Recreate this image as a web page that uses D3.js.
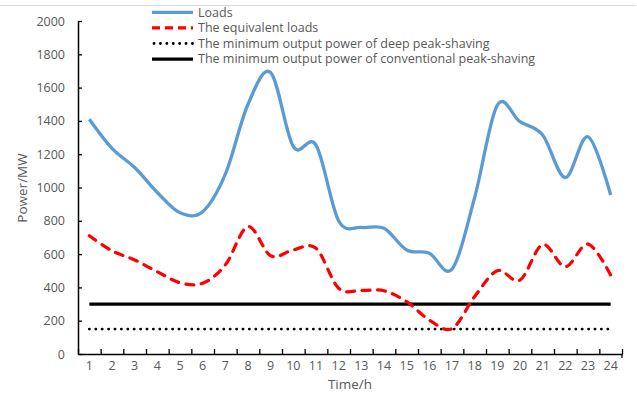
<!DOCTYPE html>
<html>
<head>
<meta charset="utf-8">
<script src="https://cdn.jsdelivr.net/npm/d3@7"></script>
<style>
  body { margin: 0; background: #fff; }
  text { font-family: "Open Sans", sans-serif; fill: #595959; }
</style>
</head>
<body>
<div id="wrapper"></div>
<script>
// data
const hours = ["1","2","3","4","5","6","7","8","9","10","11","12","13","14","15","16","17","18","19","20","21","22","23","24"];
const loads = [1410, 1235, 1120, 970, 848, 855, 1080, 1500, 1690, 1245, 1255, 800, 760, 755, 625, 605, 510, 940, 1495, 1395, 1315, 1060, 1305, 955];
const equivalentLoads = [710, 620, 565, 494, 428, 425, 535, 765, 590, 625, 635, 395, 382, 380, 314, 204, 152, 345, 500, 444, 657, 524, 660, 474];
const deepMin = 150;          // minimum output power of deep peak-shaving
const conventionalMin = 300;  // minimum output power of conventional peak-shaving
const yTicks = [0, 200, 400, 600, 800, 1000, 1200, 1400, 1600, 1800, 2000];
const legendLabels = [
  "Loads",
  "The equivalent loads",
  "The minimum output power of deep peak-shaving",
  "The minimum output power of conventional peak-shaving"
];

const dims = { width: 637, height: 395, left: 78, right: 622, top: 21, bottom: 354 };

const svg = d3.select("#wrapper").append("svg")
  .attr("width", dims.width)
  .attr("height", dims.height);

// thin grey frame line at the top
svg.append("line")
  .attr("x1", 0).attr("x2", 636)
  .attr("y1", 5.5).attr("y2", 5.5)
  .attr("stroke", "#d9d9d9");

// scales
const xScale = d3.scaleBand().domain(hours).range([dims.left, dims.right]).padding(0);
const xPos = d => xScale(d) + xScale.bandwidth() / 2;
const xEdges = d3.scaleLinear().domain([0, hours.length]).range([dims.left, dims.right]);
const yScale = d3.scaleLinear().domain([0, 2000]).range([dims.bottom, dims.top]);

// axes
const yAxis = svg.append("g")
  .attr("transform", `translate(${dims.left},0)`)
  .call(d3.axisLeft(yScale).tickValues(yTicks).tickFormat(d3.format("d"))
    .tickSizeInner(-4).tickSizeOuter(0).tickPadding(13));
yAxis.select(".domain").attr("stroke", "#000").attr("stroke-width", 1.5);
yAxis.selectAll(".tick line").attr("stroke", "#000").attr("stroke-width", 1.3);
yAxis.selectAll("text").style("font-size", "12.5px").attr("fill", "#595959");

const xTicks = svg.append("g")
  .attr("transform", `translate(0,${dims.bottom})`)
  .call(d3.axisBottom(xEdges).tickValues(d3.range(0, hours.length + 1)).tickSizeInner(-5).tickSizeOuter(0).tickFormat(""));
xTicks.select(".domain").attr("stroke", "#000").attr("stroke-width", 1.5);
xTicks.selectAll(".tick line").attr("stroke", "#000").attr("stroke-width", 1.3);
// right end tick pokes below the axis too
xTicks.append("line")
  .attr("x1", dims.right).attr("x2", dims.right)
  .attr("y1", 0).attr("y2", 4)
  .attr("stroke", "#000").attr("stroke-width", 1.3);

const xLabels = svg.append("g")
  .attr("transform", `translate(0,${dims.bottom})`)
  .call(d3.axisBottom(xScale).tickSize(0).tickPadding(7));
xLabels.select(".domain").remove();
xLabels.selectAll("text").style("font-size", "12.5px").attr("fill", "#595959");

// axis titles
svg.append("text")
  .attr("x", 350).attr("y", 389)
  .attr("text-anchor", "middle")
  .style("font-size", "13.5px")
  .text("Time/h");
svg.append("text")
  .attr("transform", "translate(27,188) rotate(-90)")
  .attr("text-anchor", "middle")
  .style("font-size", "13.5px")
  .text("Power/MW");

// series
const smooth = d3.line()
  .x((d, i) => xPos(hours[i]))
  .y(d => yScale(d))
  .curve(d3.curveCardinal.tension(0));

const flat = v => d3.line()([[xPos(hours[0]), yScale(v)], [xPos(hours[hours.length - 1]), yScale(v)]]);

svg.append("path")
  .attr("d", flat(conventionalMin))
  .attr("fill", "none")
  .attr("stroke", "#000")
  .attr("stroke-width", 3.3);

svg.append("path")
  .attr("d", flat(deepMin))
  .attr("fill", "none")
  .attr("stroke", "#000")
  .attr("stroke-width", 2.8)
  .attr("stroke-linecap", "round")
  .attr("stroke-dasharray", "0.1 6.3");

svg.append("path")
  .attr("d", smooth(equivalentLoads))
  .attr("fill", "none")
  .attr("stroke", "#ff0000")
  .attr("stroke-width", 3.2)
  .attr("stroke-linecap", "round")
  .attr("stroke-dasharray", "8 7.5");

svg.append("path")
  .attr("d", smooth(loads))
  .attr("fill", "none")
  .attr("stroke", "#5b9bd5")
  .attr("stroke-width", 3.3)
  .attr("stroke-linejoin", "round");

// legend
const legendStyles = [
  { stroke: "#5b9bd5", width: 3.3, dash: null, cap: "butt" },
  { stroke: "#ff0000", width: 3.2, dash: "8 5", cap: "butt" },
  { stroke: "#000", width: 2.8, dash: "0.1 6.3", cap: "round" },
  { stroke: "#000", width: 3.3, dash: null, cap: "butt" }
];
const legend = svg.append("g");
const rows = legend.selectAll("g").data(legendLabels).join("g")
  .attr("transform", (d, i) => `translate(0,${12.3 + i * 15.6})`);
rows.append("line")
  .attr("x1", (d, i) => i === 2 ? 154 : 152).attr("x2", 193)
  .attr("y1", 0).attr("y2", 0)
  .attr("stroke", (d, i) => legendStyles[i].stroke)
  .attr("stroke-width", (d, i) => legendStyles[i].width)
  .attr("stroke-dasharray", (d, i) => legendStyles[i].dash)
  .attr("stroke-linecap", (d, i) => legendStyles[i].cap);
rows.append("text")
  .attr("x", 198).attr("y", 0).attr("dy", "0.35em")
  .style("font-size", "12.5px")
  .text(d => d);
</script>
</body>
</html>
